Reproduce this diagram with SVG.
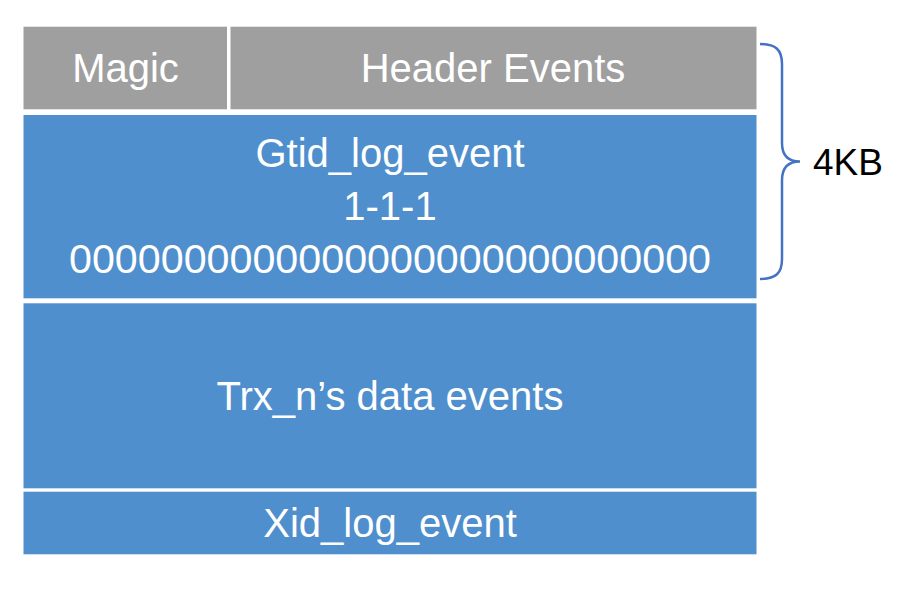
<svg xmlns="http://www.w3.org/2000/svg" width="900" height="599" viewBox="0 0 900 599">
<style>
.g{fill:#9f9f9f}
.b{fill:#4f8fcd}
.t{font-family:"Liberation Sans",Arial,sans-serif;font-size:40px;fill:#ffffff;text-anchor:middle}
.k{font-family:"Liberation Sans",Arial,sans-serif;font-size:37px;fill:#000000}
.br{fill:none;stroke:#4472c4;stroke-width:2.5}
</style>
<rect width="900" height="599" fill="#ffffff"/>
<g id="magic">
<rect class="g" x="23.5" y="26.7" width="203.5" height="82.6"/>
<text class="t" x="125.5" y="82">Magic</text>
</g>
<g id="header-events">
<rect class="g" x="230.5" y="26.7" width="526" height="82.6"/>
<text class="t" x="493" y="82">Header Events</text>
</g>
<g id="gtid-log-event">
<rect class="b" x="23.5" y="115" width="733" height="183.3"/>
<text class="t" x="390" y="167">Gtid_log_event</text>
<text class="t" x="390" y="220">1-1-1</text>
<text class="t" x="390" y="273" textLength="642" lengthAdjust="spacingAndGlyphs">0000000000000000000000000000</text>
</g>
<g id="trx-data-events">
<rect class="b" x="23.5" y="303.3" width="733" height="185"/>
<text class="t" x="390" y="410">Trx_n’s data events</text>
</g>
<g id="xid-log-event">
<rect class="b" x="23.5" y="491.7" width="733" height="62.6"/>
<text class="t" x="390" y="537">Xid_log_event</text>
</g>
<g id="connectors">
<path class="br" d="M760,44 C776,44 782,50 782,64 L782,143 C782,155 788,161.5 800,161.5 C788,161.5 782,168 782,180 L782,259 C782,273 776,279 760,279"/>
</g>
<g id="size-label">
<text class="k" x="813" y="175">4KB</text>
</g>
</svg>
